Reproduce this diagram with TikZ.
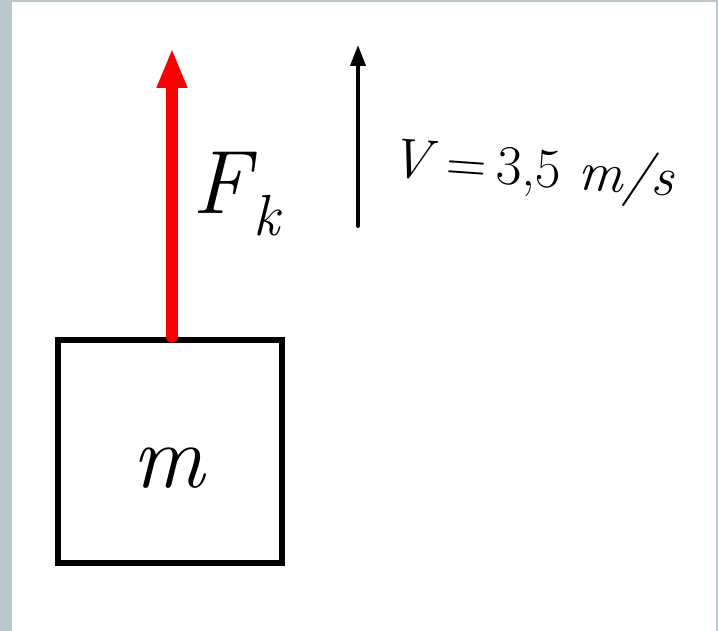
\documentclass[tikz,border=0pt]{standalone}
\usetikzlibrary{arrows.meta}
\definecolor{framegrey}{RGB}{186,200,206}
\definecolor{forcered}{RGB}{250,0,0}
\begin{document}
\begin{tikzpicture}[x=1pt,y=-1pt,
  massbox/.style={draw=black,line width=6.5pt,minimum width=224pt,minimum height=223pt,inner sep=0pt},
  forcearrow/.style={draw=forcered,line width=12pt,line cap=round,-{Triangle[length=40pt,width=28pt]}},
  velarrow/.style={draw=black,line width=4pt,line cap=round,-{Triangle[length=21pt,width=15pt]}},
  handlabel/.style={inner sep=0pt,text=black}]
\useasboundingbox (0,0) rectangle (718,631);
\fill[framegrey] (0,0) rectangle (718,631);
\fill[white] (12,2) rectangle (716,631);
% mass box
\node[massbox] (box) at (170,451.5) {};
\node[handlabel,font=\fontsize{90}{92}\selectfont\itshape] (mlabel) at (168,468) {m};
% force arrow
\coordinate (ftip) at (172,48);
\draw[forcearrow] ([xshift=2pt]box.north) -- (ftip);
\node[handlabel,font=\fontsize{90}{92}\selectfont\itshape] (flabel) at (236,194) {F\kern3pt\raisebox{-22pt}{\fontsize{58}{60}\selectfont k}};
% velocity arrow
\coordinate (vbot) at (358,226);
\coordinate (vtip) at (358,45);
\draw[velarrow] (vbot) -- (vtip);
\node[handlabel,font=\fontsize{56}{60}\selectfont,rotate=-4] (vlabel) at (532,172) {\textit{V}\,=\,3,5 \textit{m/s}};
\end{tikzpicture}
\end{document}
